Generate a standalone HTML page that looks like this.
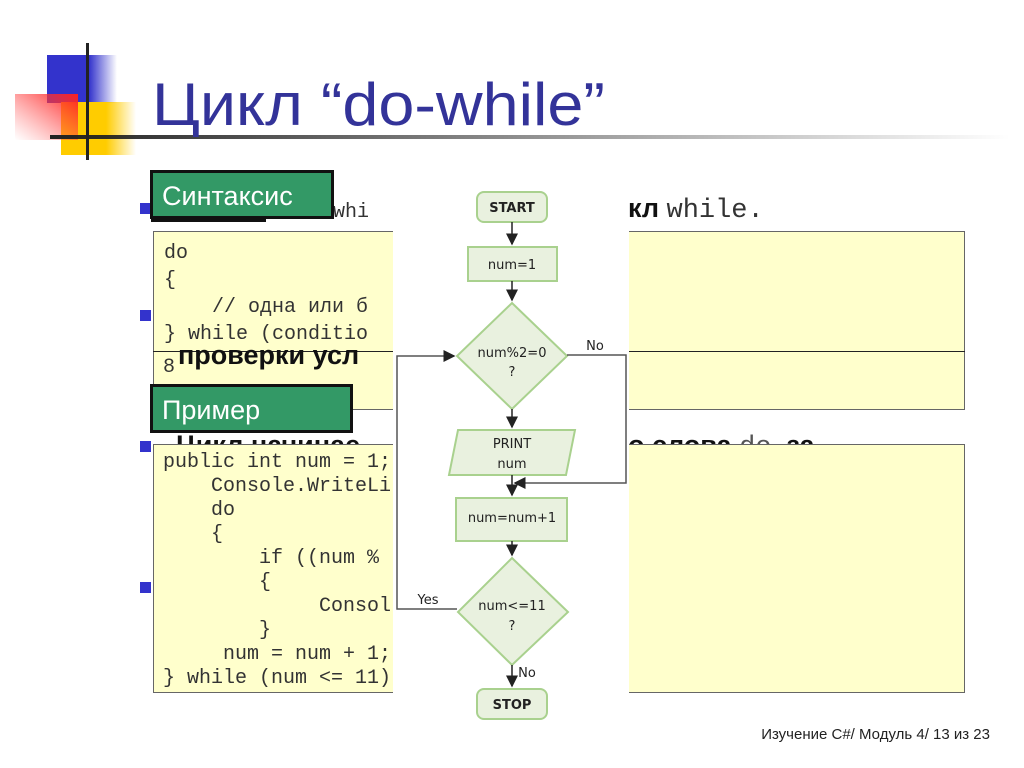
<!DOCTYPE html>
<html><head><meta charset="utf-8"><style>
html,body{margin:0;padding:0;background:#fff;width:1024px;height:768px;overflow:hidden}
svg{display:block}
.m{font-family:"Liberation Mono",monospace;font-size:20px;fill:#333;white-space:pre}
.s{font-family:"Liberation Sans","DejaVu Sans",sans-serif}
.f{font-family:"DejaVu Sans","Liberation Sans",sans-serif;font-size:13px;fill:#222;text-anchor:middle}
</style></head><body>
<svg width="1024" height="768" viewBox="0 0 1024 768" xmlns="http://www.w3.org/2000/svg">
<defs>
<linearGradient id="bl" x1="0" x2="1"><stop offset="0.6" stop-color="#3333cc"/><stop offset="1" stop-color="#3333cc" stop-opacity="0"/></linearGradient>
<linearGradient id="rd" x1="1" y1="0" x2="0" y2="1"><stop offset="0" stop-color="#ff2020"/><stop offset="1" stop-color="#ff6060" stop-opacity="0"/></linearGradient>
<linearGradient id="yl" x1="0" x2="1"><stop offset="0.6" stop-color="#ffcc00"/><stop offset="1" stop-color="#ffcc00" stop-opacity="0"/></linearGradient>
<linearGradient id="ln" x1="0" x2="1"><stop offset="0" stop-color="#222"/><stop offset="1" stop-color="#222" stop-opacity="0"/></linearGradient>
<marker id="a" markerWidth="8" markerHeight="8" refX="7" refY="4" orient="auto"><path d="M0,0 L8,4 L0,8 Z" fill="#222"/></marker>
</defs>
<rect x="47" y="55" width="70" height="48" fill="url(#bl)"/>
<rect x="61" y="102" width="75" height="53" fill="url(#yl)"/>
<rect x="15" y="94" width="63" height="46" fill="url(#rd)"/>
<rect x="50" y="135" width="960" height="4" fill="url(#ln)"/>
<rect x="86" y="43" width="3" height="117" fill="#222"/>
<text x="152" y="125" class="s" font-size="60" fill="#333399" textLength="453" lengthAdjust="spacingAndGlyphs">Цикл “do-while”</text>
<rect x="140" y="203" width="11" height="11" fill="#3333cc"/>
<rect x="140" y="310" width="11" height="11" fill="#3333cc"/>
<rect x="140" y="441" width="11" height="11" fill="#3333cc"/>
<rect x="140" y="582" width="11" height="11" fill="#3333cc"/>
<text x="333" y="217" class="m" font-size="30">whi</text>
<text x="628" y="217" class="s" font-size="27" font-weight="bold" fill="#111">кл <tspan font-family="Liberation Mono" font-weight="normal" fill="#333">while.</tspan></text>
<rect x="153.5" y="231.5" width="811" height="178" fill="#ffffcc" stroke="#666"/>
<line x1="153" y1="351.5" x2="965" y2="351.5" stroke="#222"/>
<text x="164" y="258" class="m" font-size="21">do</text>
<text x="164" y="285" class="m" font-size="21">{</text>
<text x="164" y="312" class="m" font-size="21">    // одна или б</text>
<text x="164" y="339" class="m" font-size="21">} while (conditio</text>
<text x="178" y="364" class="s" font-size="27" font-weight="bold" fill="#111">проверки усл</text>
<text x="163" y="372" class="m" font-size="17">8</text>
<text x="176" y="454" class="s" font-size="27" font-weight="bold" fill="#111">Цикл начинае</text>
<text x="628" y="454" class="s" font-size="27" font-weight="bold" fill="#111">о слова <tspan font-family="Liberation Mono" font-weight="normal" fill="#555">do</tspan>. за</text>
<rect x="151" y="178" width="115" height="44" fill="#111"/>
<rect x="151.5" y="171.5" width="181" height="46" fill="#339966" stroke="#111" stroke-width="3"/>
<text x="162" y="205" class="s" font-size="27" fill="#fff">Синтаксис</text>
<rect x="153.5" y="444.5" width="811" height="248" fill="#ffffcc" stroke="#666"/>
<rect x="151.5" y="385.5" width="200" height="46" fill="#339966" stroke="#111" stroke-width="3"/>
<text x="162" y="419" class="s" font-size="27" fill="#fff">Пример</text>
<text x="163" y="467" class="m">public int num = 1;</text>
<text x="163" y="491" class="m">    Console.WriteLi</text>
<text x="163" y="515" class="m">    do</text>
<text x="163" y="539" class="m">    {</text>
<text x="163" y="563" class="m">        if ((num %</text>
<text x="163" y="587" class="m">        {</text>
<text x="163" y="611" class="m">             Consol</text>
<text x="163" y="635" class="m">        }</text>
<text x="163" y="659" class="m">     num = num + 1;</text>
<text x="163" y="683" class="m">} while (num &lt;= 11)</text>
<rect x="393" y="180" width="236" height="548" fill="#fff"/>
<g fill="#e9f1df" stroke="#a9d18e" stroke-width="2">
<rect x="477" y="192" width="70" height="30" rx="7"/>
<rect x="468" y="247" width="89" height="34"/>
<polygon points="512,303 567,356 512,409 457,356"/>
<polygon points="458,430 575,430 566,475 449,475"/>
<rect x="456" y="498" width="111" height="43"/>
<polygon points="512,558 568,612 512,665 458,612"/>
<rect x="477" y="689" width="70" height="30" rx="7"/>
</g>
<g stroke="#222" stroke-width="1.5" fill="none">
<line x1="512" y1="222" x2="512" y2="244" marker-end="url(#a)"/>
<line x1="512" y1="281" x2="512" y2="300" marker-end="url(#a)"/>
<line x1="512" y1="409" x2="512" y2="427" marker-end="url(#a)"/>
<line x1="512" y1="475" x2="512" y2="495" marker-end="url(#a)"/>
<line x1="512" y1="541" x2="512" y2="555" marker-end="url(#a)"/>
<line x1="512" y1="665" x2="512" y2="686" marker-end="url(#a)"/>
<polyline points="457,609 397,609 397,356 454,356" marker-end="url(#a)" stroke="#555"/>
<polyline points="567,355 626,355 626,483 515,483" marker-end="url(#a)" stroke="#555"/>
</g>
<text x="512" y="212" class="f" font-weight="bold">START</text>
<text x="512" y="269" class="f">num=1</text>
<text x="512" y="357" class="f">num%2=0</text>
<text x="512" y="376" class="f">?</text>
<text x="512" y="448" class="f">PRINT</text>
<text x="512" y="468" class="f">num</text>
<text x="512" y="522" class="f">num=num+1</text>
<text x="512" y="610" class="f">num&lt;=11</text>
<text x="512" y="630" class="f">?</text>
<text x="512" y="709" class="f" font-weight="bold">STOP</text>
<text x="595" y="350" class="f">No</text>
<text x="428" y="604" class="f">Yes</text>
<text x="527" y="677" class="f">No</text>
<text x="990" y="739" class="s" font-size="15" fill="#222" text-anchor="end">Изучение С#/ Модуль 4/ 13 из 23</text>
</svg>
</body></html>
